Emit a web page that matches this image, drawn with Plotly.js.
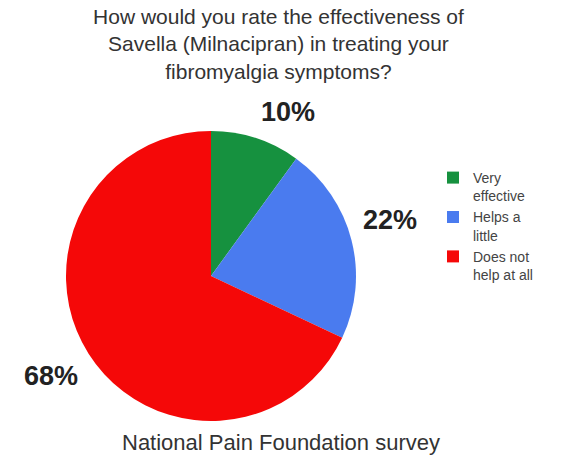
<!DOCTYPE html>
<html>
<head>
<meta charset="utf-8">
<script src="https://cdn.plot.ly/plotly-3.0.1.min.js"></script>
<style>html,body{margin:0;padding:0;background:#fff;}#chart{width:566px;height:455px;}</style>
</head>
<body>
<div id="chart"></div>
<script>
// Data
const categories = ["Very<br>effective", "Helps a<br>little", "Does not<br>help at all"];
const values = [10, 22, 68];
const labelTexts = ["10%", "22%", "68%"];
const colors = ["#16913f", "#4a7bef", "#f50808"];

const W = 566, H = 455;
// pie geometry (layout)
const cx = 211, cy = 276, R = 145;
const domX = [(cx - R) / W, (cx + R) / W];
const domY = [(H - (cy + R)) / H, (H - (cy - R)) / H];

// outside labels placed at each slice's mid-angle
const total = values.reduce((a, b) => a + b, 0);
const gap = 10;
let cum = 0;
const annotations = values.map((v, i) => {
  const mid = 2 * Math.PI * (cum + v / 2) / total;
  cum += v;
  const s = Math.sin(mid), c = Math.cos(mid);
  const px = cx + (R + gap) * s;
  const py = cy - (R + gap) * c;
  return {
    x: px / W, y: 1 - py / H, xref: "paper", yref: "paper",
    text: "<b>" + labelTexts[i] + "</b>", showarrow: false,
    xanchor: s >= 0 ? "left" : "right",
    yanchor: c >= 0 ? "bottom" : "top",
    font: {family: "Liberation Sans, Arial, sans-serif", size: 27, color: "#222"}
  };
});
annotations.push({
  x: 281 / W, y: 1 - 442 / H, xref: "paper", yref: "paper",
  text: "National Pain Foundation survey", showarrow: false,
  xanchor: "center", yanchor: "middle",
  font: {family: "Liberation Sans, Arial, sans-serif", size: 22, color: "#333"}
});

const trace = {
  type: "pie",
  labels: categories,
  values: values,
  sort: false,
  direction: "clockwise",
  rotation: 0,
  textinfo: "none",
  hoverinfo: "label+percent",
  marker: {colors: colors, line: {width: 0}},
  domain: {x: domX, y: domY}
};

const layout = {
  width: W, height: H,
  margin: {l: 0, r: 0, t: 0, b: 0},
  paper_bgcolor: "#fff",
  title: {
    text: "How would you rate the effectiveness of<br>Savella (Milnacipran) in treating your<br>fibromyalgia symptoms?",
    x: 0.492, xanchor: "center", y: 0.947, yanchor: "top",
    font: {family: "Liberation Sans, Arial, sans-serif", size: 21, color: "#333"}
  },
  showlegend: true,
  legend: {
    x: 433 / W, xanchor: "left", y: 1 - 162 / H, yanchor: "top",
    font: {family: "Liberation Sans, Arial, sans-serif", size: 14, color: "#444"},
    bgcolor: "rgba(0,0,0,0)", valign: "top"
  },
  annotations: annotations
};

Plotly.newPlot("chart", [trace], layout, {staticPlot: true, displayModeBar: false});
</script>
</body>
</html>
